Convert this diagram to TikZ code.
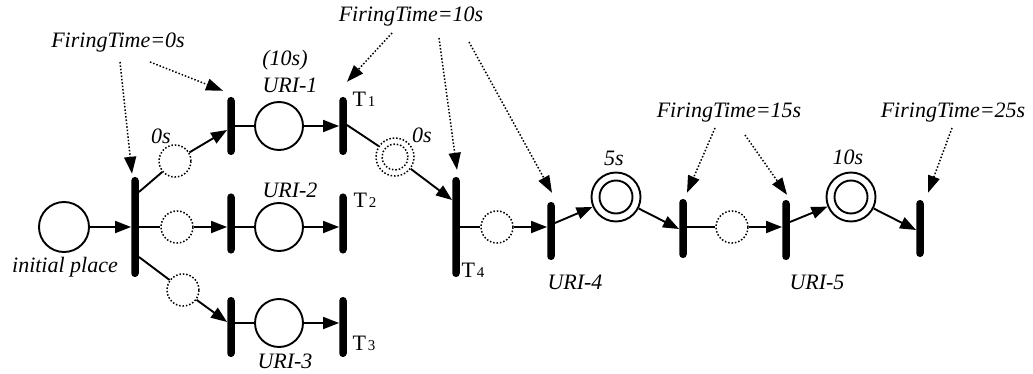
\documentclass[tikz,border=0pt]{standalone}
\usepackage{fontspec}
\setmainfont{Liberation Serif}
\usetikzlibrary{arrows.meta,calc}
\begin{document}
\begin{tikzpicture}[x=1pt,y=-1pt,
  bar/.style={rectangle, fill=black, inner sep=0pt, minimum width=7.5pt, minimum height=#1, rounded corners=3.6pt},
  bar/.default=60pt,
  place/.style={circle, draw, line width=1.9pt, minimum size=48pt, inner sep=0pt},
  dplace/.style={circle, draw, line width=1.5pt, dash pattern=on 1.5pt off 1.9pt, minimum size=32pt, inner sep=0pt},
  dotline/.style={line width=1.5pt, dash pattern=on 1.5pt off 1.9pt},
  arc/.style={line width=1.9pt},
  arr/.style={line width=1.9pt, -{Triangle[length=16pt,width=12pt]}},
  ann/.style={line width=1.5pt, dash pattern=on 1.5pt off 1.9pt, -{Triangle[length=17pt,width=12pt]}},
  lbl/.style={font=\fontsize{22}{24}\selectfont\itshape, inner sep=0pt},
  tl/.style={font=\fontsize{22}{24}\selectfont, inner sep=0pt},
]
\useasboundingbox (0,0) rectangle (1033,374);

% places
\node[place, minimum size=50pt] (init) at (64,227) {};
\node[place] (p1) at (279,126) {};
\node[place] (p2) at (279,227) {};
\node[place] (p3) at (279,323) {};
\node[dplace] (a1) at (175,161) {};
\node[dplace] (a2) at (177,227) {};
\node[dplace] (a3) at (183,290) {};
\node[dplace, minimum size=38pt] (d2) at (395,157) {};
\draw[dotline] (d2.center) circle[radius=13pt];
\node[dplace] (a4) at (497,227) {};
\node[dplace] (a5) at (732,227) {};
\node[place, minimum size=49pt] (q1) at (616,197) {};
\draw[arc] (q1.center) circle[radius=16.5pt];
\node[place, minimum size=49pt] (q2) at (851,197) {};
\draw[arc] (q2.center) circle[radius=16.5pt];

% transitions
\node[bar=100pt] (t0) at (135,227) {};
\node[bar=58pt] (u1in) at (231,126) {};
\node[bar=58pt] (t1) at (343,126) {};
\node[bar] (u2in) at (231,223.5) {};
\node[bar] (t2) at (343,223.5) {};
\node[bar] (u3in) at (231,327) {};
\node[bar] (t3) at (343,327) {};
\node[bar=100pt] (t4) at (456,227) {};
\node[bar=58pt] (u4) at (551,231) {};
\node[bar=59pt] (u4out) at (683,228.5) {};
\node[bar] (u5) at (786,230) {};
\node[bar=57pt] (tf) at (920,228.5) {};

% arcs
\draw[arr] (init) -- (t0.west |- init);
\draw[arc] ($(t0.east)+(0,-35)$) -- (a1);
\draw[arr] (a1) -- ($(u1in.west)+(0,4)$);
\draw[arc] (u1in.east |- p1) -- (p1);
\draw[arr] (p1) -- (t1.west |- p1);
\draw[arc] (t0.east |- a2) -- (a2);
\draw[arr] (a2) -- (u2in.west |- a2);
\draw[arc] (u2in.east |- p2) -- (p2);
\draw[arr] (p2) -- (t2.west |- p2);
\draw[arc] ($(t0.east)+(0,30)$) -- (a3);
\draw[arr] (a3) -- ($(u3in.west)+(0,-5)$);
\draw[arc] (u3in.east |- p3) -- (p3);
\draw[arr] (p3) -- (t3.west |- p3);
\draw[arc] ($(t1.east)+(0,-1)$) -- (d2);
\draw[arr] (d2) -- ($(t4.west)+(0,-27)$);
\draw[arc] (t4.east |- a4) -- (a4);
\draw[arr] (a4) -- (u4.west |- a4);
\draw[arr] ($(u4.east)+(0,-8)$) -- (q1);
\draw[arr] (q1) -- ($(u4out.west)+(0,0.5)$);
\draw[arc] (u4out.east |- a5) -- (a5);
\draw[arr] (a5) -- (u5.west |- a5);
\draw[arr] ($(u5.east)+(0,-8)$) -- (q2);
\draw[arr] (q2) -- ($(tf.west)+(0,1.5)$);

% labels
\node[lbl] (f0) at (118,43) {FiringTime=0s};
\node[lbl] (f10) at (411,17) {FiringTime=10s};
\node[lbl] (f15) at (729,113) {FiringTime=15s};
\node[lbl] (f25) at (953,113) {FiringTime=25s};
\node[lbl] (linit) at (65,267) {initial place};
\node[lbl] (l0s) at (161,136) {0s};
\node[lbl] (l10s) at (285,60) {(10s)};
\node[lbl] (luri1) at (290,85) {URI-1};
\node[lbl] (luri2) at (290,190) {URI-2};
\node[lbl] (luri3) at (285,361) {URI-3};
\node[lbl] (l0sb) at (422,135) {0s};
\node[lbl] (l5s) at (614,158) {5s};
\node[lbl] (luri4) at (575,282) {URI-4};
\node[lbl] (l10sb) at (848,157) {10s};
\node[lbl] (luri5) at (817,282) {URI-5};
\node[tl] (lt1) at (364,99) {T\kern2pt{\fontsize{15}{15}\selectfont 1}};
\node[tl] (lt2) at (365,200) {T\kern2pt{\fontsize{15}{15}\selectfont 2}};
\node[tl] (lt3) at (364,343) {T\kern2pt{\fontsize{15}{15}\selectfont 3}};
\node[tl] (lt4) at (473,270) {T\kern2pt{\fontsize{15}{15}\selectfont 4}};

% annotation arrows
\coordinate (s01) at (120,62);
\coordinate (s02) at (150,62);
\coordinate (s10a) at (392,33);
\coordinate (s10b) at (439,38);
\coordinate (s10c) at (469,42);
\coordinate (s15a) at (715,128);
\coordinate (s15b) at (745,135);
\coordinate (s25) at (952,128);
\draw[ann] (s01) -- ($(t0.north)+(-3,-3)$);
\draw[ann] (s02) -- ($(u1in.north)+(-8,-6)$);
\draw[ann] (s10a) -- ($(t1.north)+(4,-15)$);
\draw[ann] (s10b) -- ($(t4.north)+(1,-7)$);
\draw[ann] (s10c) -- ($(u4.north)+(1,-9)$);
\draw[ann] (s15a) -- ($(u4out.north)+(4,-6)$);
\draw[ann] (s15b) -- ($(u5.north)+(1,-5)$);
\draw[ann] (s25) -- ($(tf.north)+(8,-7)$);
\end{tikzpicture}
\end{document}
